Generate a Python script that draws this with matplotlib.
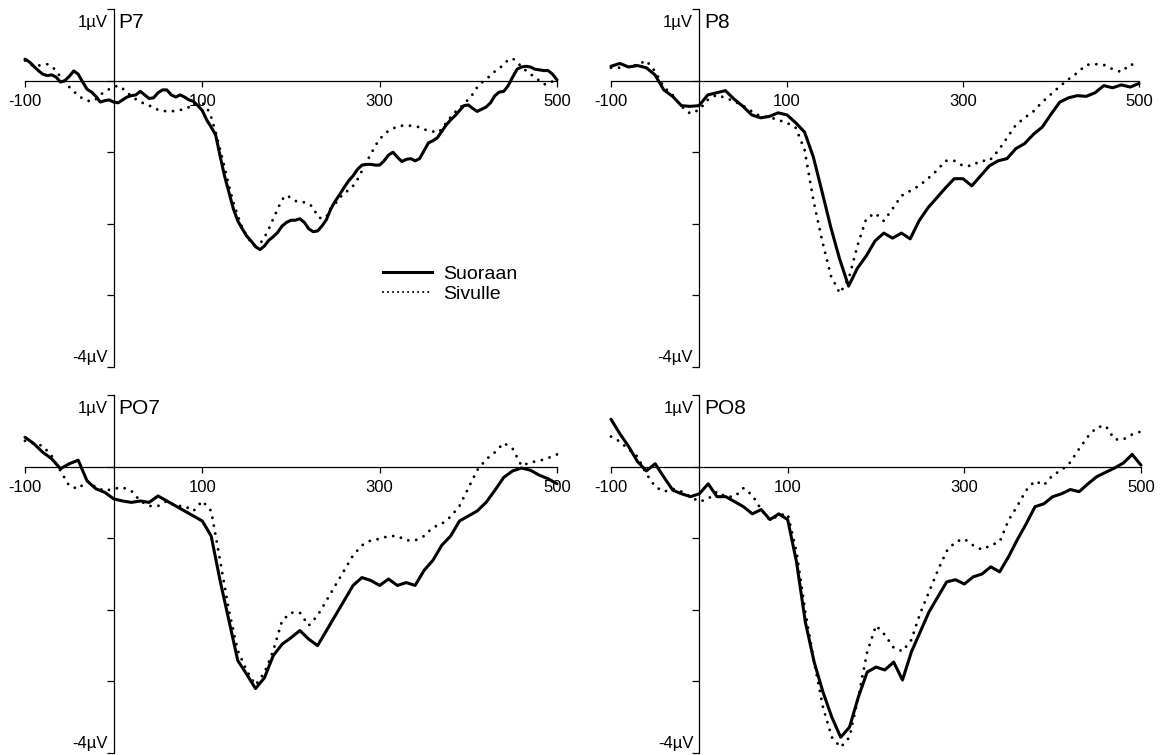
import numpy as np
import matplotlib
matplotlib.use("Agg")
import matplotlib.pyplot as plt
from matplotlib.lines import Line2D

plt.rcParams['font.family'] = ['Liberation Sans', 'DejaVu Sans']
plt.rcParams['axes.unicode_minus'] = False

# sample times (ms)
t5 = np.arange(-100, 501, 5)
t10 = np.arange(-100, 501, 10)

# P7, 5 ms steps
p7_suoraan = [0.30, 0.26, 0.20, 0.14, 0.09, 0.07, 0.08, 0.05, -0.02, 0.00,
              0.06, 0.135, 0.09, -0.02, -0.12, -0.16, -0.22, -0.30, -0.28, -0.27,
              -0.30, -0.31, -0.27, -0.23, -0.21, -0.20, -0.15, -0.20, -0.25, -0.24,
              -0.17, -0.13, -0.13, -0.20, -0.23, -0.20, -0.23, -0.27, -0.29, -0.35,
              -0.42, -0.55, -0.65, -0.76, -1.05, -1.33, -1.56, -1.79, -1.96, -2.07,
              -2.17, -2.24, -2.32, -2.36, -2.31, -2.23, -2.18, -2.12, -2.03, -1.98,
              -1.95, -1.95, -1.93, -1.98, -2.07, -2.11, -2.10, -2.03, -1.94, -1.79,
              -1.68, -1.59, -1.49, -1.40, -1.33, -1.24, -1.18, -1.17, -1.17, -1.18,
              -1.18, -1.12, -1.04, -1.00, -1.07, -1.13, -1.10, -1.09, -1.12, -1.09,
              -0.98, -0.87, -0.84, -0.80, -0.71, -0.62, -0.55, -0.49, -0.42, -0.35,
              -0.34, -0.39, -0.43, -0.40, -0.37, -0.31, -0.21, -0.16, -0.15, -0.07,
              0.05, 0.16, 0.19, 0.20, 0.19, 0.16, 0.15, 0.14, 0.14, 0.09,
              0.01]
p7_sivulle = [0.28, 0.24, 0.20, 0.21, 0.22, 0.23, 0.20, 0.14, 0.05, -0.03,
              -0.09, -0.15, -0.21, -0.25, -0.28, -0.29, -0.26, -0.20, -0.15, -0.12,
              -0.09, -0.07, -0.11, -0.16, -0.22, -0.26, -0.29, -0.33, -0.35, -0.37,
              -0.41, -0.42, -0.43, -0.43, -0.42, -0.41, -0.40, -0.37, -0.34, -0.33,
              -0.31, -0.37, -0.51, -0.72, -0.96, -1.21, -1.47, -1.70, -1.89, -2.05,
              -2.17, -2.26, -2.31, -2.28, -2.19, -2.07, -1.93, -1.79, -1.66, -1.60,
              -1.64, -1.68, -1.70, -1.70, -1.72, -1.77, -1.90, -1.93, -1.90, -1.78,
              -1.72, -1.63, -1.59, -1.52, -1.47, -1.38, -1.26, -1.14, -1.03, -0.91,
              -0.82, -0.75, -0.70, -0.67, -0.64, -0.63, -0.63, -0.63, -0.64, -0.65,
              -0.68, -0.70, -0.71, -0.73, -0.68, -0.59, -0.51, -0.44, -0.39, -0.33,
              -0.26, -0.19, -0.09, -0.03, 0.02, 0.07, 0.13, 0.17, 0.23, 0.29,
              0.31, 0.26, 0.19, 0.14, 0.09, 0.05, 0.00, -0.05, -0.05, -0.01,
              0.02]

# P8, PO7, PO8, 10 ms steps
p8_suoraan = [0.20, 0.24, 0.19, 0.21, 0.18, 0.08, -0.13, -0.22, -0.35, -0.36,
              -0.35, -0.20, -0.17, -0.14, -0.26, -0.36, -0.48, -0.52, -0.50, -0.45,
              -0.48, -0.59, -0.72, -1.07, -1.56, -2.06, -2.50, -2.87, -2.62, -2.45,
              -2.24, -2.13, -2.20, -2.13, -2.21, -1.96, -1.78, -1.64, -1.50, -1.37,
              -1.37, -1.47, -1.33, -1.19, -1.12, -1.09, -0.95, -0.88, -0.75, -0.65,
              -0.47, -0.30, -0.24, -0.21, -0.22, -0.17, -0.07, -0.10, -0.06, -0.09,
              -0.04]
p8_sivulle = [0.18, 0.18, 0.20, 0.22, 0.28, 0.13, -0.09, -0.20, -0.36, -0.46,
              -0.41, -0.27, -0.20, -0.24, -0.29, -0.35, -0.43, -0.50, -0.51, -0.55,
              -0.59, -0.66, -0.97, -1.67, -2.24, -2.73, -2.97, -2.77, -2.31, -1.93,
              -1.85, -1.96, -1.79, -1.61, -1.54, -1.47, -1.37, -1.26, -1.12, -1.12,
              -1.19, -1.19, -1.12, -1.12, -0.98, -0.80, -0.62, -0.52, -0.43, -0.30,
              -0.19, -0.08, 0.02, 0.11, 0.22, 0.23, 0.22, 0.16, 0.12, 0.23,
              0.20]
po7_suoraan = [0.41, 0.32, 0.20, 0.11, -0.03, 0.04, 0.09, -0.20, -0.31, -0.36,
               -0.45, -0.48, -0.50, -0.48, -0.50, -0.41, -0.48, -0.55, -0.62, -0.69,
               -0.76, -0.97, -1.59, -2.15, -2.71, -2.90, -3.10, -2.95, -2.64, -2.48,
               -2.39, -2.29, -2.41, -2.50, -2.29, -2.08, -1.87, -1.66, -1.55, -1.59,
               -1.66, -1.57, -1.66, -1.62, -1.66, -1.45, -1.31, -1.10, -0.97, -0.76,
               -0.69, -0.62, -0.50, -0.33, -0.15, -0.06, -0.02, -0.05, -0.12, -0.17,
               -0.24]
po7_sivulle = [0.36, 0.32, 0.29, 0.15, -0.06, -0.27, -0.31, -0.20, -0.29, -0.34,
               -0.31, -0.29, -0.34, -0.48, -0.55, -0.55, -0.48, -0.55, -0.55, -0.62,
               -0.48, -0.62, -1.31, -2.01, -2.57, -2.85, -3.05, -2.88, -2.57, -2.15,
               -2.04, -2.04, -2.22, -2.08, -1.87, -1.66, -1.45, -1.24, -1.10, -1.03,
               -1.01, -0.97, -0.97, -1.03, -1.03, -0.97, -0.85, -0.80, -0.70, -0.55,
               -0.30, -0.05, 0.10, 0.20, 0.33, 0.25, 0.01, 0.06, 0.08, 0.12,
               0.17]
po8_suoraan = [0.66, 0.46, 0.28, 0.07, -0.06, 0.04, -0.15, -0.33, -0.38, -0.42,
               -0.38, -0.24, -0.42, -0.42, -0.49, -0.56, -0.66, -0.60, -0.74, -0.66,
               -0.74, -1.33, -2.17, -2.73, -3.15, -3.50, -3.78, -3.64, -3.22, -2.87,
               -2.80, -2.84, -2.73, -2.98, -2.59, -2.31, -2.03, -1.82, -1.61, -1.58,
               -1.64, -1.54, -1.50, -1.40, -1.47, -1.26, -1.02, -0.80, -0.56, -0.52,
               -0.42, -0.38, -0.32, -0.35, -0.24, -0.14, -0.08, -0.02, 0.05, 0.17,
               0.02]
po8_sivulle = [0.42, 0.35, 0.24, 0.14, -0.10, -0.28, -0.35, -0.31, -0.35, -0.42,
               -0.49, -0.45, -0.35, -0.42, -0.42, -0.30, -0.40, -0.60, -0.75, -0.68,
               -0.66, -1.19, -2.03, -2.73, -3.36, -3.78, -3.92, -3.78, -3.22, -2.59,
               -2.22, -2.35, -2.53, -2.58, -2.42, -2.05, -1.75, -1.45, -1.18, -1.05,
               -1.01, -1.10, -1.16, -1.10, -1.05, -0.75, -0.55, -0.33, -0.20, -0.26,
               -0.12, -0.05, 0.06, 0.25, 0.42, 0.55, 0.57, 0.38, 0.38, 0.45,
               0.49]

W, H = 1167, 755
# pixel boxes (x at -100, y at 1uV, x at 500, y at -4uV)
panels = [
    ("P7", t5, p7_suoraan, p7_sivulle, (25, 9, 557, 367)),
    ("P8", t10, p8_suoraan, p8_sivulle, (611, 9, 1139, 367)),
    ("PO7", t10, po7_suoraan, po7_sivulle, (25, 395, 557, 753)),
    ("PO8", t10, po8_suoraan, po8_sivulle, (611, 395, 1141, 753)),
]

fig = plt.figure(figsize=(W / 100, H / 100), dpi=100)

dotted = (0, (0.01, 2.75))
axes = []
for name, t, solid, dots, (x0, y0, x1, y1) in panels:
    ax = fig.add_axes([x0 / W, 1 - y1 / H, (x1 - x0) / W, (y1 - y0) / H])
    ax.patch.set_visible(False)
    ax.plot(t, solid, color='black', lw=2.2, solid_joinstyle='round',
            solid_capstyle='round', clip_on=False)
    ax.plot(t, dots, color='black', lw=2.1, linestyle=dotted,
            dash_capstyle='round', clip_on=False)

    ax.set_xlim(-100, 500)
    ax.set_ylim(-4, 1)
    for s in ['top', 'right']:
        ax.spines[s].set_visible(False)
    for s in ['left', 'bottom']:
        ax.spines[s].set_position(('data', 0))
        ax.spines[s].set_linewidth(0.9)
    ax.set_xticks([-100, 100, 300, 500])
    ax.tick_params(axis='x', direction='out', length=4, width=0.9, pad=6,
                   labelsize=12)
    ax.set_yticks([1, 0, -1, -2, -3, -4])
    ax.set_yticklabels([])
    ax.tick_params(axis='y', direction='out', length=5, width=0.9)

    ax.annotate('1µV', xy=(0, 1), xytext=(-6, -18), textcoords='offset pixels',
                ha='right', va='baseline', fontsize=12)
    ax.annotate('-4µV', xy=(0, -4), xytext=(-6, 5), textcoords='offset pixels',
                ha='right', va='baseline', fontsize=12)
    ax.annotate(name, xy=(0, 1), xytext=(5, -19), textcoords='offset pixels',
                ha='left', va='baseline', fontsize=15)
    axes.append(ax)

handles = [Line2D([], [], color='black', lw=2.2),
           Line2D([], [], color='black', lw=1.5, linestyle=(0, (0.01, 2.4)),
                  dash_capstyle='round')]
axes[0].legend(handles, ['Suoraan', 'Sivulle'], loc='upper left',
               bbox_to_anchor=(383 / W, 1 - 265 / H), bbox_transform=fig.transFigure,
               frameon=False, fontsize=14, handlelength=2.5, handletextpad=0.6,
               labelspacing=0.15, borderpad=0, borderaxespad=0)

fig.savefig('out.png', dpi=100)
